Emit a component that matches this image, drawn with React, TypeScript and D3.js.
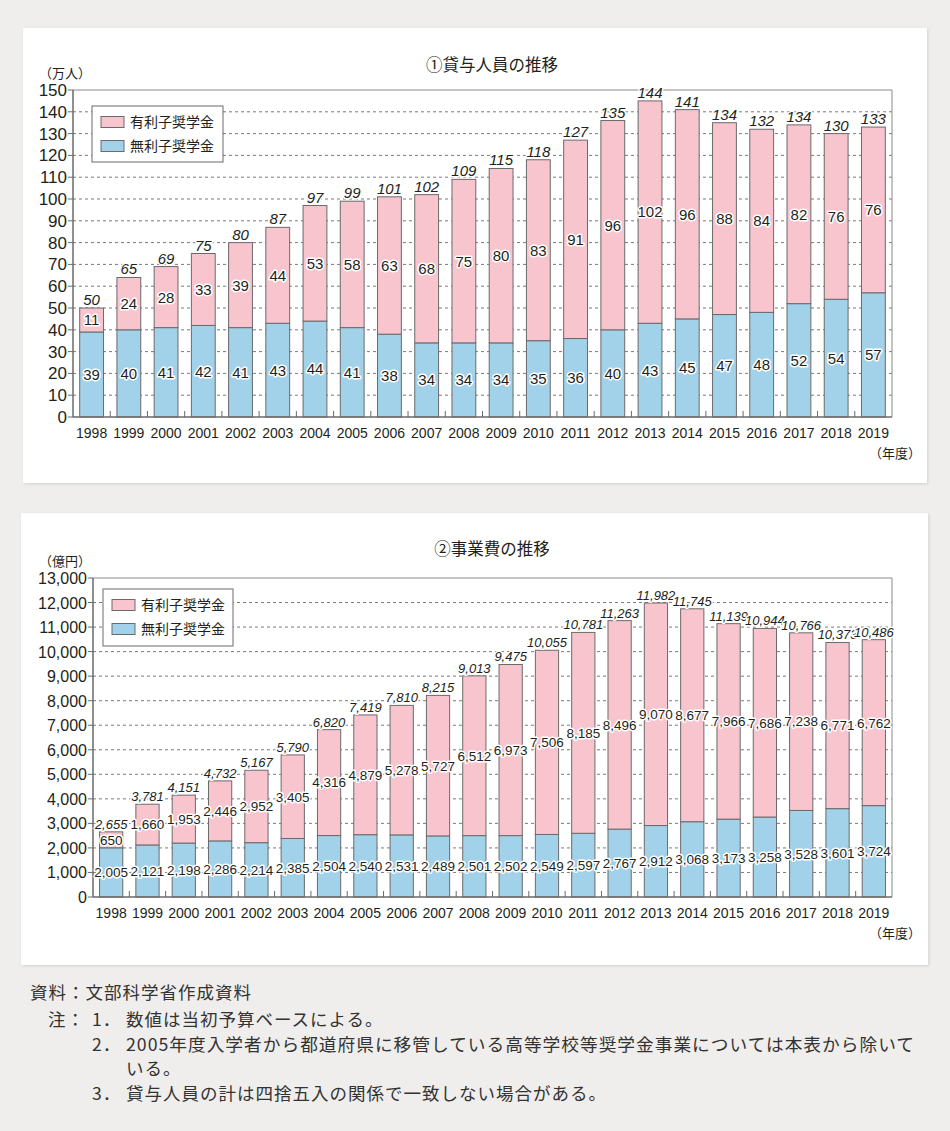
import React from 'react';
import * as d3 from 'd3';

const years = ['1998','1999','2000','2001','2002','2003','2004','2005','2006','2007','2008','2009','2010','2011','2012','2013','2014','2015','2016','2017','2018','2019'];

// ① 貸与人員 (万人)
const p1Free = [39,40,41,42,41,43,44,41,38,34,34,34,35,36,40,43,45,47,48,52,54,57];
const p1Interest = [11,24,28,33,39,44,53,58,63,68,75,80,83,91,96,102,96,88,84,82,76,76];
const p1Total = [50,65,69,75,80,87,97,99,101,102,109,115,118,127,135,144,141,134,132,134,130,133];
const p1Ticks = [0,10,20,30,40,50,60,70,80,90,100,110,120,130,140,150];

// ② 事業費 (億円)
const p2Free = [2005,2121,2198,2286,2214,2385,2504,2540,2531,2489,2501,2502,2549,2597,2767,2912,3068,3173,3258,3528,3601,3724];
const p2Interest = [650,1660,1953,2446,2952,3405,4316,4879,5278,5727,6512,6973,7506,8185,8496,9070,8677,7966,7686,7238,6771,6762];
const p2Total = [2655,3781,4151,4732,5167,5790,6820,7419,7810,8215,9013,9475,10055,10781,11263,11982,11745,11139,10944,10766,10373,10486];
const p2Ticks = [0,1000,2000,3000,4000,5000,6000,7000,8000,9000,10000,11000,12000,13000];

const legendLabels = ['有利子奨学金', '無利子奨学金'];

const PINK = '#f8c5cf';
const BLUE = '#a2d2e9';
const EDGE = '#6a6a6a';
const TXT = '#231f20';
const NUM_FONT = '"Liberation Sans", Arial, Helvetica, sans-serif';
const JP_FONT = '"Noto Sans CJK JP", "Noto Sans", sans-serif';

type PanelProps = {
  box: { x: number; y: number; w: number; h: number };
  plot: { l: number; r: number; t: number; b: number };
  title: string;
  titleY: number;
  unit: string;
  unitY: number;
  free: number[];
  interest: number[];
  total: number[];
  ticks: number[];
  fmt: (v: number) => string;
  yFont: number;
  valFont: number;
  totFont: number;
  xFont: number;
  xLabelY: number;
  nendoY: number;
  legend: { x: number; y: number; w: number; h: number };
};

function Halo(props: any) {
  const { children, ...rest } = props;
  return (
    <text
      {...rest}
      stroke="#fff"
      strokeWidth={3}
      strokeLinejoin="round"
      style={{ paintOrder: 'stroke' }}
    >
      {children}
    </text>
  );
}

function Panel(p: PanelProps) {
  const yMax = p.ticks[p.ticks.length - 1];
  const x = d3.scaleBand<string>().domain(years).range([p.plot.l, p.plot.r]).paddingInner(0.36).paddingOuter(0.18);
  const y = d3.scaleLinear().domain([0, yMax]).range([p.plot.b, p.plot.t]);
  const step = x.step();
  const bw = x.bandwidth();
  const stack = d3.stack<any>().keys(['free', 'interest'])(
    years.map((yr, i) => ({ year: yr, free: p.free[i], interest: p.interest[i] }))
  );
  return (
    <g>
      <rect x={p.box.x + 1} y={p.box.y + 1} width={p.box.w} height={p.box.h} fill="#d2d1cf" filter="url(#shadow)" />
      <rect x={p.box.x} y={p.box.y} width={p.box.w} height={p.box.h} fill="#ffffff" />
      <text x={492} y={p.titleY} fontFamily={JP_FONT} fontSize={16.5} textAnchor="middle" fill={TXT}>{p.title}</text>
      <text x={39} y={p.unitY} fontFamily={JP_FONT} fontSize={13} fill={TXT}>{p.unit}</text>
      {/* grid */}
      {p.ticks.slice(1, -1).map((t) => (
        <line key={'g' + t} x1={p.plot.l} x2={p.plot.r} y1={y(t)} y2={y(t)} stroke="#7a7a7a" strokeWidth={1} strokeDasharray="3,3" />
      ))}
      {/* frame top / right */}
      <line x1={p.plot.l} x2={p.plot.r} y1={p.plot.t} y2={p.plot.t} stroke="#8a8a8a" strokeWidth={1} />
      <line x1={p.plot.r} x2={p.plot.r} y1={p.plot.t} y2={p.plot.b} stroke="#8a8a8a" strokeWidth={1} />
      {/* bars */}
      {stack.map((s, si) =>
        s.map((d, i) => (
          <rect
            key={si + '-' + i}
            x={x(years[i])}
            y={y(d[1])}
            width={bw}
            height={y(d[0]) - y(d[1])}
            fill={si === 0 ? BLUE : PINK}
            stroke={EDGE}
            strokeWidth={1}
          />
        ))
      )}
      {/* axes */}
      <line x1={p.plot.l} x2={p.plot.l} y1={p.plot.t} y2={p.plot.b} stroke="#6a6a6a" strokeWidth={1.5} />
      <line x1={p.plot.l} x2={p.plot.r} y1={p.plot.b} y2={p.plot.b} stroke="#6a6a6a" strokeWidth={1.5} />
      {p.ticks.map((t) => (
        <g key={'t' + t}>
          <line x1={p.plot.l - 5} x2={p.plot.l} y1={y(t)} y2={y(t)} stroke="#6a6a6a" strokeWidth={1} />
          <text x={p.plot.l - 6} y={y(t) + 6} textAnchor="end" fontFamily={NUM_FONT} fontSize={p.yFont} fill={TXT}>{p.fmt(t)}</text>
        </g>
      ))}
      {years.slice(1).map((yr, i) => {
        const bx = p.plot.l + step * (i + 1);
        return <line key={'xt' + yr} x1={bx} x2={bx} y1={p.plot.b} y2={p.plot.b - 6} stroke="#6a6a6a" strokeWidth={1} />;
      })}
      {years.map((yr) => (
        <text key={'xl' + yr} x={(x(yr) as number) + bw / 2} y={p.xLabelY} textAnchor="middle" fontFamily={NUM_FONT} fontSize={p.xFont} fill={TXT}>{yr}</text>
      ))}
      <text x={869} y={p.nendoY} fontFamily={JP_FONT} fontSize={13} fill={TXT}>（年度）</text>
      {/* value labels */}
      {years.map((yr, i) => {
        const cx = (x(yr) as number) + bw / 2;
        const f = p.free[i];
        const it = p.interest[i];
        return (
          <g key={'v' + yr} fontFamily={NUM_FONT} fill={TXT} textAnchor="middle">
            <Halo x={cx} y={y(f / 2) + p.valFont * 0.36} fontSize={p.valFont}>{p.fmt(f)}</Halo>
            <Halo x={cx} y={y(f + it / 2) + p.valFont * 0.36} fontSize={p.valFont}>{p.fmt(it)}</Halo>
            <Halo x={cx} y={y(f + it) - 3} fontSize={p.totFont} fontStyle="italic">{p.fmt(p.total[i])}</Halo>
          </g>
        );
      })}
      {/* legend */}
      <rect x={p.legend.x} y={p.legend.y} width={p.legend.w} height={p.legend.h} fill="#fff" stroke="#6a6a6a" strokeWidth={1} />
      {legendLabels.map((lb, i) => {
        const cy = p.legend.y + 16 + i * 24;
        return (
          <g key={lb}>
            <rect x={p.legend.x + 9} y={cy - 5.5} width={23} height={11} fill={i === 0 ? PINK : BLUE} stroke="#6a6a6a" strokeWidth={1} />
            <text x={p.legend.x + 38} y={cy + 5} fontFamily={JP_FONT} fontSize={14} fill={TXT}>{lb}</text>
          </g>
        );
      })}
    </g>
  );
}

export default function App() {
  const fmt1 = (v: number) => String(v);
  const fmt2 = d3.format(',');
  return (
    <svg width={950} height={1131} style={{ position: 'absolute', left: 0, top: 0, display: 'block' }}>
      <defs>
        <filter id="shadow" x="-5%" y="-5%" width="110%" height="110%">
          <feGaussianBlur stdDeviation="1.5" />
        </filter>
      </defs>
      <rect x={0} y={0} width={950} height={1131} fill="#efeeec" />
      <Panel
        box={{ x: 23, y: 28, w: 904, h: 455 }}
        plot={{ l: 73, r: 892, t: 90, b: 417 }}
        title="①貸与人員の推移"
        titleY={71}
        unit="（万人）"
        unitY={78}
        free={p1Free}
        interest={p1Interest}
        total={p1Total}
        ticks={p1Ticks}
        fmt={fmt1}
        yFont={17}
        valFont={15}
        totFont={15}
        xFont={14}
        xLabelY={438}
        nendoY={458}
        legend={{ x: 92, y: 106, w: 131, h: 56 }}
      />
      <Panel
        box={{ x: 21, y: 513, w: 907, h: 452 }}
        plot={{ l: 93, r: 892, t: 578, b: 897 }}
        title="②事業費の推移"
        titleY={555}
        unit="（億円）"
        unitY={566}
        free={p2Free}
        interest={p2Interest}
        total={p2Total}
        ticks={p2Ticks}
        fmt={fmt2}
        yFont={16}
        valFont={13.5}
        totFont={13}
        xFont={14}
        xLabelY={918}
        nendoY={938}
        legend={{ x: 103, y: 589, w: 130, h: 57 }}
      />
      <g fontFamily={JP_FONT} fontSize={17.5} fill="#333" letterSpacing={1}>
        <text x={30} y={999}>資料：文部科学省作成資料</text>
        <text x={48} y={1026}>注：</text>
        <text x={92} y={1026}>1．</text>
        <text x={126} y={1026}>数値は当初予算ベースによる。</text>
        <text x={92} y={1051}>2．</text>
        <text x={126} y={1051} textLength={789} lengthAdjust="spacingAndGlyphs">2005年度入学者から都道府県に移管している高等学校等奨学金事業については本表から除いて</text>
        <text x={126} y={1075}>いる。</text>
        <text x={92} y={1100}>3．</text>
        <text x={126} y={1100}>貸与人員の計は四捨五入の関係で一致しない場合がある。</text>
      </g>
    </svg>
  );
}
